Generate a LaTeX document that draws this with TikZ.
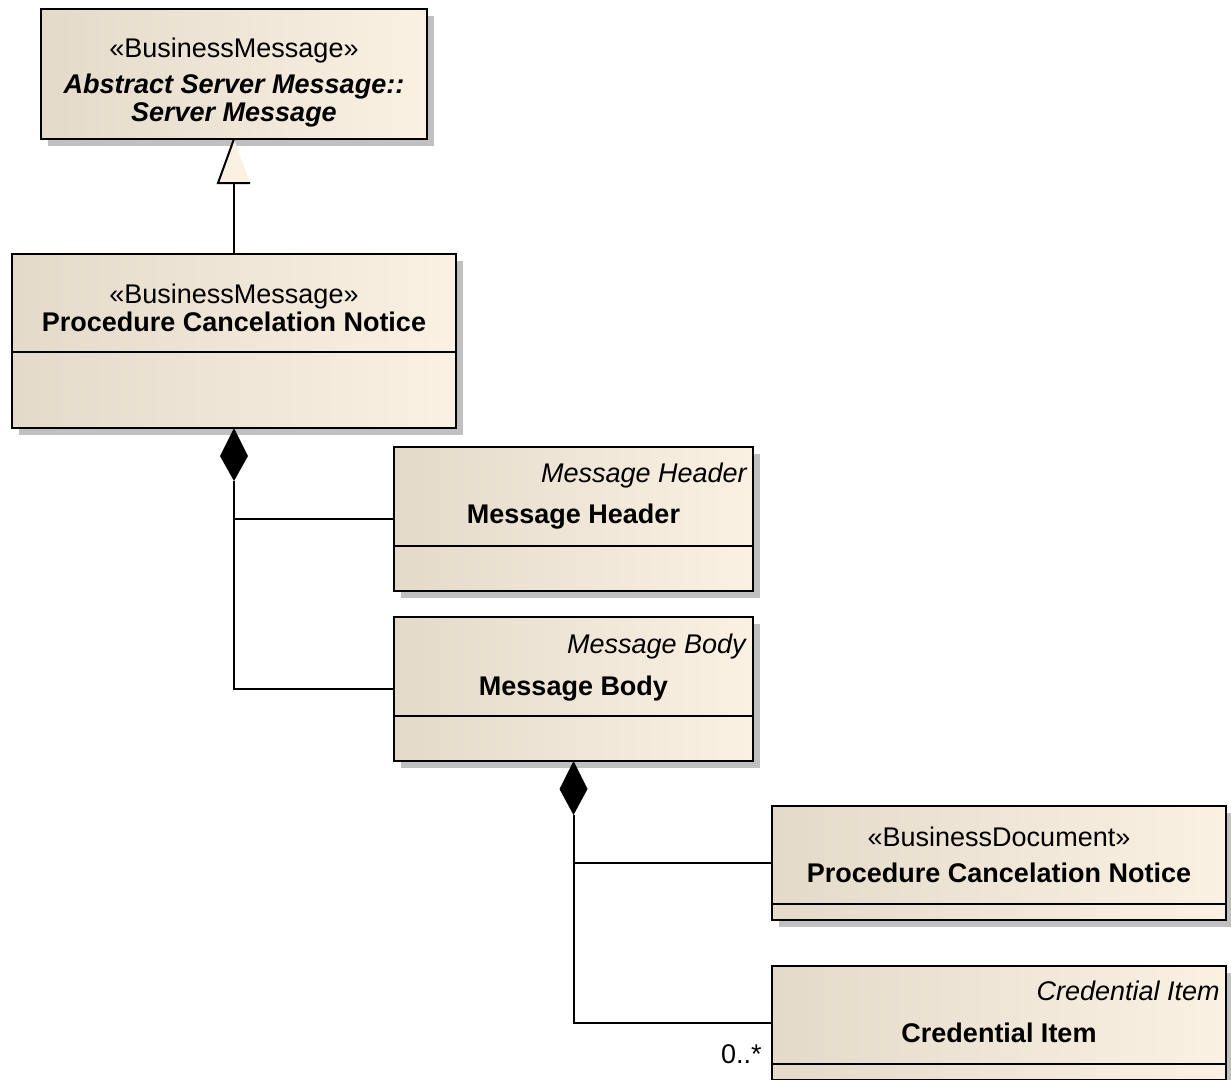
\documentclass[tikz,border=0pt]{standalone}
\usepackage{fontspec}
\setmainfont{Liberation Sans}
\usetikzlibrary{calc,shadows}
\definecolor{bgL}{RGB}{228,218,202}
\definecolor{bgR}{RGB}{251,241,227}
\definecolor{shgray}{RGB}{192,192,192}
\tikzset{
  classbox/.style={draw=black, line width=1.7pt, left color=bgL, middle color=bgR!93!bgL, right color=bgR,
    inner sep=0pt, outer sep=0pt,
    general shadow={fill=shgray, shadow xshift=5.25pt, shadow yshift=-5.25pt}},
  divider/.style={line width=1.5pt},
  conn/.style={line width=1.5pt},
  ster/.style={font=\fontsize{20.25}{24}\selectfont, inner sep=0pt, anchor=base},
  bname/.style={font=\fontsize{20.25}{24}\selectfont\bfseries, inner sep=0pt, anchor=base},
  biname/.style={font=\fontsize{20.25}{24}\selectfont\bfseries\itshape, inner sep=0pt, anchor=base},
  iname/.style={font=\fontsize{20.25}{24}\selectfont\itshape, inner sep=0pt, anchor=base east},
}
\begin{document}
\begin{tikzpicture}[x=0.75pt, y=-0.75pt]
\useasboundingbox (0,0) rectangle (1231,1079);

% boxes
\node[classbox, minimum width=289.5pt, minimum height=97.5pt] (b1) at (234,74) {};
\node[classbox, minimum width=333pt, minimum height=130.5pt] (b2) at (234,341) {};
\node[classbox, minimum width=269.25pt, minimum height=108pt] (b3) at (573.5,519) {};
\node[classbox, minimum width=269.25pt, minimum height=108pt] (b4) at (573.5,689) {};
\node[classbox, minimum width=340.5pt, minimum height=85.5pt] (b5) at (999,863) {};
\node[classbox, minimum width=340.5pt, minimum height=85.5pt] (b6) at (999,1023) {};

% dividers
\draw[divider] (b2.west |- 0,352) -- (b2.east |- 0,352);
\draw[divider] (b3.west |- 0,546) -- (b3.east |- 0,546);
\draw[divider] (b4.west |- 0,716) -- (b4.east |- 0,716);
\draw[divider] (b5.west |- 0,904) -- (b5.east |- 0,904);
\draw[divider] (b6.west |- 0,1064) -- (b6.east |- 0,1064);

% texts
\node[ster] (s1) at (234,57) {«BusinessMessage»};
\node[biname] (n1a) at (234,93) {Abstract Server Message::};
\node[biname] (n1b) at (234,121) {Server Message};

\node[ster] (s2) at (234,303) {«BusinessMessage»};
\node[bname] (n2) at (234,331) {Procedure Cancelation Notice};

\node[iname] (i3) at (747,482) {Message Header};
\node[bname] (n3) at (573.5,523) {Message Header};

\node[iname] (i4) at (746,653) {Message Body};
\node[bname] (n4) at (573.5,695) {Message Body};

\node[ster] (s5) at (999,846) {«BusinessDocument»};
\node[bname] (n5) at (999,882) {Procedure Cancelation Notice};

\node[iname] (i6) at (1220,1000) {Credential Item};
\node[bname] (n6) at (999,1042) {Credential Item};

% generalization
\fill[bgR] (b1.south) -- ++(-16,44) -- ++(32,0) -- cycle;
\draw[conn, line join=miter] ($(b1.south)+(16,44)$) -- ++(-32,0) -- (b1.south);
\draw[conn] (b2.north) -- ($(b1.south)+(0,44)$);

% composition 1
\fill (b2.south) -- ++(-14,28) -- ++(14,25) -- ++(14,-25) -- cycle;
\coordinate (d1) at ($(b2.south)+(0,53)$);
\draw[conn] (d1) |- (b3.west);
\draw[conn] (d1) |- (b4.west);

% composition 2
\fill (b4.south) -- ++(-14,28) -- ++(14,26) -- ++(14,-26) -- cycle;
\coordinate (d2) at ($(b4.south)+(0,54)$);
\draw[conn] (d2) |- (b5.west);
\draw[conn] (d2) |- (b6.west);
\node[ster, anchor=base east] (m6) at (762,1063) {0..*};
\end{tikzpicture}
\end{document}
